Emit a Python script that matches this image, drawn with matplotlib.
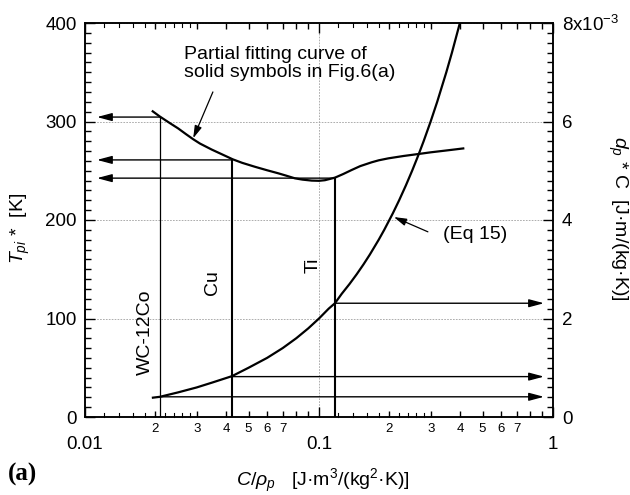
import numpy as np
import matplotlib
matplotlib.use('Agg')
import matplotlib.pyplot as plt
import matplotlib.transforms as mtransforms
from matplotlib.ticker import FixedLocator, FixedFormatter, MultipleLocator

plt.rcParams['font.family'] = ['Liberation Sans', 'DejaVu Sans']
plt.rcParams['mathtext.fontset'] = 'custom'
plt.rcParams['mathtext.rm'] = 'Liberation Sans'
plt.rcParams['mathtext.it'] = 'Liberation Sans:italic'

# partial fitting curve of solid symbols in Fig.6(a)  -> left axis, T_pi* [K]
fit_x = [0.0193, 0.0209, 0.023, 0.025, 0.027, 0.029, 0.031, 0.0348, 0.038, 0.0428,
         0.047, 0.0533, 0.06, 0.067, 0.072, 0.0789, 0.085, 0.0931, 0.1, 0.106,
         0.117, 0.127, 0.138, 0.15, 0.168, 0.18, 0.198, 0.23, 0.266, 0.3, 0.345,
         0.38, 0.418]
fit_T = [311, 305, 298.5, 293, 287.2, 282, 277.6, 271.5, 267.3, 261.6,
         258, 254, 250.5, 247.4, 245.2, 242.3, 241, 240, 239.8, 240.4,
         243, 246.7, 250.8, 254.7, 258.6, 260.6, 262.6, 265, 267, 268.7, 270.4,
         271.6, 272.8]

# Eq 15 curve -> right axis, d_p* C
eq_x = [0.0193, 0.0209, 0.025, 0.03, 0.035, 0.0425, 0.05, 0.06, 0.07, 0.08, 0.09,
        0.1, 0.11, 0.117, 0.125, 0.135, 0.145, 0.155, 0.165, 0.18, 0.19, 0.207,
        0.22, 0.235, 0.25, 0.265, 0.28, 0.3, 0.32, 0.35, 0.37, 0.4]
eq_d = [0.39, 0.41, 0.5, 0.6, 0.7, 0.83, 1.0, 1.2, 1.4, 1.6, 1.8,
        2.0, 2.2, 2.31, 2.5, 2.7, 2.9, 3.1, 3.3, 3.6, 3.8, 4.14,
        4.4, 4.7, 5.0, 5.3, 5.6, 6.0, 6.4, 7.0, 7.4, 8.0]
eq_d = [v * 1e-3 for v in eq_d]

# materials
materials = ['WC-12Co', 'Cu', 'Ti']
mat_x = [0.0209, 0.0425, 0.117]
mat_T = [304.5, 261, 242.5]
mat_d = [0.41e-3, 0.82e-3, 2.31e-3]

fig = plt.figure(figsize=(6.3, 4.95), dpi=100)
ax = fig.add_axes([85 / 630, 78 / 495, 468 / 630, 394 / 495])
ax2 = ax.twinx()

ax.set_xscale('log')
ax.set_xlim(0.01, 1)
ax.set_ylim(0, 400)
ax2.set_ylim(0, 8e-3)

# grid
ax.grid(True, which='major', color='#a0a0a0', linestyle=(0, (2, 1.5)), linewidth=0.6)

# curves
ax.plot(fit_x, fit_T, color='k', lw=1.6, solid_capstyle='butt', solid_joinstyle='round')
ax2.plot(eq_x, eq_d, color='k', lw=1.6, solid_capstyle='butt', solid_joinstyle='round')

head = dict(arrowstyle='-|>,head_length=0.9,head_width=0.24', color='k', lw=1.0,
            shrinkA=0, shrinkB=0, mutation_scale=10)
for i, (x, T, d) in enumerate(zip(mat_x, mat_T, mat_d)):
    ax.plot([x, x], [0, T], color='k', lw=0.9 if i == 0 else 1.5)
    ax.annotate('', xy=(0.01125, T), xytext=(x, T), arrowprops=head)
    ax2.annotate('', xy=(0.915, d), xytext=(x, d), arrowprops=head)

# material labels
ax.text(0.0181, 86, materials[0], rotation=90, ha='center', va='center', fontsize=14)
ax.text(0.0352, 136, materials[1], rotation=90, ha='center', va='center', fontsize=14)
ax.text(0.0943, 154, materials[2], rotation=90, ha='center', va='center', fontsize=14)

# annotations
thin = dict(arrowstyle='-|>,head_length=0.75,head_width=0.22', color='k', lw=0.9,
            shrinkA=0, shrinkB=0, mutation_scale=10)
ax.text(0.0265, 359, 'Partial fitting curve of\nsolid symbols in Fig.6(a)',
        ha='left', va='center', multialignment='left', fontsize=14, linespacing=1.1)
ax.annotate('', xy=(0.029, 283), xytext=(0.0352, 330), arrowprops=thin)
ax.text(0.464, 185, '(Eq 15)', ha='center', va='center', fontsize=14)
ax.annotate('', xy=(0.209, 203), xytext=(0.292, 188), arrowprops=thin)

# x ticks
ax.xaxis.set_major_locator(FixedLocator([0.01, 0.1, 1]))
ax.xaxis.set_major_formatter(FixedFormatter(['0.01', '0.1', '1']))
mults = list(range(2, 10))
minor_x = [dec * m for dec in (0.01, 0.1) for m in mults]
minor_lab = [str(m) if m <= 7 else '' for dec in (0.01, 0.1) for m in mults]
ax.xaxis.set_minor_locator(FixedLocator(minor_x))
ax.xaxis.set_minor_formatter(FixedFormatter(minor_lab))
ax.tick_params(axis='x', which='major', direction='in', length=7, width=1.0,
               top=True, labelsize=13.5, pad=14, zorder=5)
ax.tick_params(axis='x', which='minor', direction='in', length=4, width=1.0,
               top=True, labelsize=9.5, pad=4.5, zorder=5)

# short sub-minor ticks
trans = mtransforms.blended_transform_factory(ax.transData, ax.transAxes)
for dec in (0.01, 0.1):
    for m in (1.2, 1.4, 1.6, 1.8, 2.2, 2.4, 2.6, 2.8):
        ax.plot([dec * m] * 2, [0, 0.009], transform=trans, color='k', lw=0.8, clip_on=False)
        ax.plot([dec * m] * 2, [1 - 0.009, 1], transform=trans, color='k', lw=0.8, clip_on=False)

# y ticks
ax.yaxis.set_major_locator(MultipleLocator(100))
ax.yaxis.set_minor_locator(MultipleLocator(10))
ax.tick_params(axis='y', which='major', direction='in', length=7, width=1.0,
               labelsize=13.5, pad=5.8)
ax.tick_params(axis='y', which='minor', direction='in', length=4.3, width=1.0)

ax2.yaxis.set_major_locator(FixedLocator([0, 2e-3, 4e-3, 6e-3, 8e-3]))
ax2.yaxis.set_major_formatter(FixedFormatter(['0', '2', '4', '6', r'8x10$^{-3}$']))
ax2.yaxis.set_minor_locator(MultipleLocator(2e-4))
ax2.tick_params(axis='y', which='major', direction='in', length=7, width=1.0,
                labelsize=13.5, pad=6.5)
ax2.tick_params(axis='y', which='minor', direction='in', length=4.3, width=1.0)

for a in (ax, ax2):
    for s in a.spines.values():
        s.set_linewidth(1.1)

# axis titles
fig.text(20 / 630, 1 - 228 / 495, r'$T_{pi}$ *  [K]', rotation=90,
         ha='center', va='center', fontsize=14)
fig.text(618 / 630, 1 - 218 / 495, r'$d_p$ * C  [J·m/(kg·K)]', rotation=270,
         ha='center', va='center', fontsize=14)
fig.text(323 / 630, 1 - 486 / 495, r'$C/\rho_p$   [J·m$^3$/(kg$^2$·K)]',
         ha='center', va='baseline', fontsize=14)
fig.text(8 / 630, 1 - 481 / 495, '(a)', family='Liberation Serif', weight='bold',
         fontsize=18, va='baseline')

fig.savefig('out.png', dpi=100)
